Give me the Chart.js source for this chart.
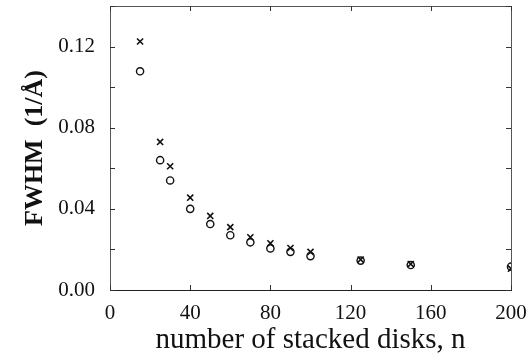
<!DOCTYPE html>
<html>
<head>
<meta charset="utf-8">
<script src="https://cdn.jsdelivr.net/npm/chart.js@4.4.1/dist/chart.umd.min.js"></script>
<style>
  html, body { margin: 0; padding: 0; background: #fff; }
  #wrap { width: 527px; height: 360px; }
</style>
</head>
<body>
<div id="wrap"><canvas id="fwhm-chart"></canvas></div>
<script>
// number of stacked disks
const disks = [15, 25, 30, 40, 50, 60, 70, 80, 90, 100, 125, 150, 200];
// FWHM (1/Å), crosses and circles
const fwhmCross = [0.1225, 0.073, 0.061, 0.0455, 0.0365, 0.031, 0.026, 0.023, 0.0207, 0.0188, 0.0150, 0.0128, 0.0105];
const fwhmCircle = [0.1078, 0.064, 0.054, 0.0400, 0.0325, 0.0270, 0.0235, 0.0205, 0.0188, 0.0167, 0.0145, 0.0123, 0.0115];

const xTicks = [0, 40, 80, 120, 160, 200];
const yTicks = [0.00, 0.02, 0.04, 0.06, 0.08, 0.10, 0.12, 0.14];
const yLabels = ['0.00', '', '0.04', '', '0.08', '', '0.12', ''];

const serif = '"Liberation Serif", "DejaVu Serif", serif';

// frame around the plot with inward tick marks on all four sides
const frameTicks = {
    id: 'frameTicks',
    beforeDatasetsDraw(chart) {
        const { ctx, chartArea: a, scales } = chart;
        const len = 5;
        ctx.save();
        ctx.lineWidth = 1;
        ctx.strokeStyle = '#555';
        ctx.strokeRect(a.left + 0.5, a.top + 0.5, a.right - a.left, a.bottom - a.top);
        ctx.strokeStyle = '#222';
        ctx.beginPath();
        ctx.moveTo(a.left, a.bottom + 0.5);
        ctx.lineTo(a.right + 1, a.bottom + 0.5);
        ctx.stroke();

        ctx.strokeStyle = '#333';
        ctx.beginPath();
        xTicks.forEach(v => {
            const x = Math.round(scales.x.getPixelForValue(v)) + 0.5;
            ctx.moveTo(x, a.bottom); ctx.lineTo(x, a.bottom - len);
            ctx.moveTo(x, a.top); ctx.lineTo(x, a.top + len);
        });
        yTicks.forEach(v => {
            const y = Math.round(scales.y.getPixelForValue(v)) + 0.5;
            ctx.moveTo(a.left, y); ctx.lineTo(a.left + len, y);
            ctx.moveTo(a.right, y); ctx.lineTo(a.right - len, y);
        });
        ctx.stroke();
        ctx.restore();
    }
};

function pointsOf(values) {
    return disks.map((n, i) => ({ x: n, y: values[i] }));
}

const ctx = document.getElementById('fwhm-chart');
new Chart(ctx, {
    type: 'scatter',
    data: {
        datasets: [{
            label: 'x',
            data: pointsOf(fwhmCross),
            pointStyle: 'crossRot',
            pointRadius: 4.3,
            pointBorderWidth: 1.6,
            borderColor: '#111',
            backgroundColor: '#111'
        }, {
            label: 'o',
            data: pointsOf(fwhmCircle),
            pointStyle: 'circle',
            pointRadius: 3.6,
            pointBorderWidth: 1.4,
            borderColor: '#111',
            backgroundColor: 'rgba(0,0,0,0)'
        }]
    },
    options: {
        responsive: true,
        maintainAspectRatio: false,
        animation: false,
        events: [],
        layout: {
            padding: { top: 6, right: 16, bottom: 0, left: 0 }
        },
        plugins: {
            legend: { display: false },
            tooltip: { enabled: false }
        },
        scales: {
            x: {
                type: 'linear',
                min: 0,
                max: 200,
                afterFit: s => {
                    s.height = 70;
                    s.paddingLeft = 0;
                    s.paddingRight = 0;
                },
                afterBuildTicks: s => { s.ticks = xTicks.map(v => ({ value: v })); },
                grid: { display: false, drawTicks: false },
                border: { display: false },
                ticks: {
                    padding: 11,
                    color: '#111',
                    font: { family: serif, size: 21 },
                    maxRotation: 0,
                    callback: v => String(v)
                },
                title: {
                    display: true,
                    text: 'number of stacked disks, n',
                    color: '#111',
                    font: { family: serif, size: 29 },
                    padding: { top: 0, bottom: 2 }
                }
            },
            y: {
                type: 'linear',
                min: 0,
                max: 0.14,
                afterFit: s => {
                    s.width = 110;
                    s.paddingTop = 0;
                    s.paddingBottom = 0;
                },
                afterBuildTicks: s => { s.ticks = yTicks.map(v => ({ value: v })); },
                grid: { display: false, drawTicks: false },
                border: { display: false },
                ticks: {
                    padding: 15,
                    color: '#111',
                    font: { family: serif, size: 21 },
                    callback: (v, i) => yLabels[i]
                },
                title: {
                    display: true,
                    text: 'FWHM  (1/Å)',
                    color: '#111',
                    font: { family: serif, size: 26, weight: 'bold' },
                    padding: { top: 20, bottom: 0 }
                }
            }
        }
    },
    plugins: [frameTicks]
});
</script>
</body>
</html>
